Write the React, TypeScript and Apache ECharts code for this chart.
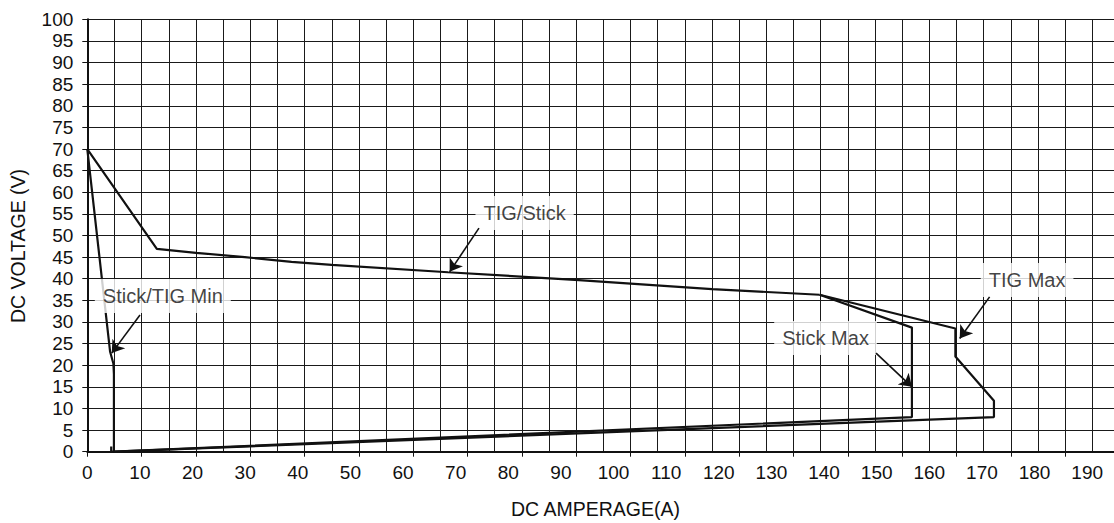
import React, { useEffect, useRef } from "react";
import * as echarts from "echarts";

// Stick/TIG Min curve
const minAmps = [0, 4.2, 4.8, 4.9, 4.9, 4.4, 4.4];
const minVolts = [70, 23.1, 20.4, 18, 0, 0, 1.2];

// Common TIG/Stick curve
const mainAmps = [0, 12.8, 20, 29, 37.6, 45, 66.4, 90.5, 115, 134.8];
const mainVolts = [70, 46.9, 46, 45, 43.9, 43.2, 41.5, 39.7, 37.6, 36.3];

// Stick Max branch
const stickMaxAmps = [134.8, 151.8, 151.8, 4.9];
const stickMaxVolts = [36.3, 28.7, 8, 0];

// TIG Max branch
const tigMaxAmps = [134.8, 159.8, 159.8, 166.9, 166.9, 4.9];
const tigMaxVolts = [36.3, 28.5, 22, 11.8, 8, 0];

// Annotations
const noteNames = ["TIG/Stick", "Stick/TIG Min", "Stick Max", "TIG Max"];
const noteAmps = [80.5, 13.9, 135.9, 173.0];
const noteVolts = [55.2, 36.0, 26.3, 39.7];
const arrowFromAmps = [72.1, 9.7, 145.2, 166.1];
const arrowFromVolts = [51.7, 31.6, 22.8, 35.8];
const arrowToAmps = [66.7, 4.5, 151.8, 160.6];
const arrowToVolts = [41.6, 22.8, 15.0, 26.2];

const xTickLabels = [0, 10, 20, 30, 40, 50, 60, 70, 80, 90, 100, 110, 120, 130, 140, 150, 160, 170, 180, 190];

const FONT = "'Liberation Sans', Arial, Helvetica, sans-serif";
const INK = "#111";
const GRIDC = "#1a1a1a";

const pairs = (xs: number[], ys: number[]) => xs.map((x, i) => [x, ys[i]]);

export default function App() {
  const ref = useRef<HTMLDivElement>(null);
  useEffect(() => {
    if (!ref.current) return;
    const chart = echarts.init(ref.current, undefined, { renderer: "svg" });
    const lineStyle = { color: INK, width: 2.2 };
    const curve = (name: string, xs: number[], ys: number[]) => ({
      type: "line",
      name,
      data: pairs(xs, ys),
      xAxisIndex: 0,
      yAxisIndex: 0,
      showSymbol: false,
      symbol: "none",
      lineStyle,
      z: 3,
    });
    chart.setOption({
      animation: false,
      backgroundColor: "#fff",
      textStyle: { fontFamily: FONT },
      grid: { left: 87.3, top: 19.3, bottom: 71.3, right: 0, containLabel: false },
      xAxis: [
        {
          type: "value",
          min: 0,
          max: 189,
          interval: 5,
          axisLine: { show: true, onZero: false, lineStyle: { color: INK, width: 2 } },
          axisTick: { show: false },
          axisLabel: { show: false },
          splitLine: { show: true, lineStyle: { color: GRIDC, width: 1 } },
        },
        {
          type: "value",
          position: "bottom",
          min: 0,
          max: 195.1,
          interval: 10,
          axisLine: { show: false },
          axisTick: { show: false },
          splitLine: { show: false },
          axisLabel: {
            show: true,
            margin: 11,
            fontSize: 19,
            color: INK,
            fontFamily: FONT,
            showMaxLabel: false,
            formatter: (v: number) => (xTickLabels.includes(v) ? String(v) : ""),
          },
        },
        {
          type: "value",
          position: "bottom",
          min: 0,
          max: 189,
          interval: 10,
          axisLine: { show: false },
          axisTick: { show: true, length: 5, lineStyle: { color: INK, width: 1 } },
          axisLabel: { show: false },
          splitLine: { show: false },
        },
      ],
      yAxis: {
        type: "value",
        min: 0,
        max: 100,
        interval: 5,
        axisLine: { show: true, lineStyle: { color: INK, width: 2 } },
        axisTick: { show: true, length: 5, lineStyle: { color: INK, width: 1 } },
        axisLabel: { margin: 14, fontSize: 19, color: INK, fontFamily: FONT },
        splitLine: { show: true, lineStyle: { color: GRIDC, width: 1 } },
      },
      graphic: [
        {
          type: "text",
          x: 17.5,
          y: 246,
          rotation: Math.PI / 2,
          style: {
            text: "DC VOLTAGE (V)",
            fontSize: 19.5,
            fontFamily: FONT,
            fill: INK,
            align: "center",
            verticalAlign: "middle",
          },
        },
        {
          type: "text",
          x: 595.5,
          y: 509,
          style: {
            text: "DC AMPERAGE(A)",
            fontSize: 19.5,
            fontFamily: FONT,
            fill: INK,
            align: "center",
            verticalAlign: "middle",
          },
        },
      ],
      series: [
        curve("Stick/TIG Min", minAmps, minVolts),
        curve("TIG/Stick", mainAmps, mainVolts),
        curve("Stick Max", stickMaxAmps, stickMaxVolts),
        curve("TIG Max", tigMaxAmps, tigMaxVolts),
        {
          type: "scatter",
          name: "notes",
          xAxisIndex: 0,
          yAxisIndex: 0,
          symbolSize: 1,
          itemStyle: { color: "rgba(0,0,0,0)" },
          z: 5,
          data: noteNames.map((n, i) => ({ name: n, value: [noteAmps[i], noteVolts[i]] })),
          label: {
            show: true,
            position: "inside",
            formatter: "{b}",
            fontSize: 20,
            fontFamily: FONT,
            color: INK,
            backgroundColor: "#fff",
            padding: [7, 8],
          },
        },
        {
          type: "lines",
          coordinateSystem: "cartesian2d",
          xAxisIndex: 0,
          yAxisIndex: 0,
          z: 6,
          symbol: ["none", "arrow"],
          symbolSize: [0, 12],
          lineStyle: { color: INK, width: 1.6, opacity: 1 },
          data: noteNames.map((_, i) => ({
            coords: [
              [arrowFromAmps[i], arrowFromVolts[i]],
              [arrowToAmps[i], arrowToVolts[i]],
            ],
          })),
        },
      ],
    });
    return () => chart.dispose();
  }, []);
  return (
    <div
      ref={ref}
      style={{ position: "fixed", left: 0, top: 0, width: 1114, height: 523, background: "#fff" }}
    />
  );
}
